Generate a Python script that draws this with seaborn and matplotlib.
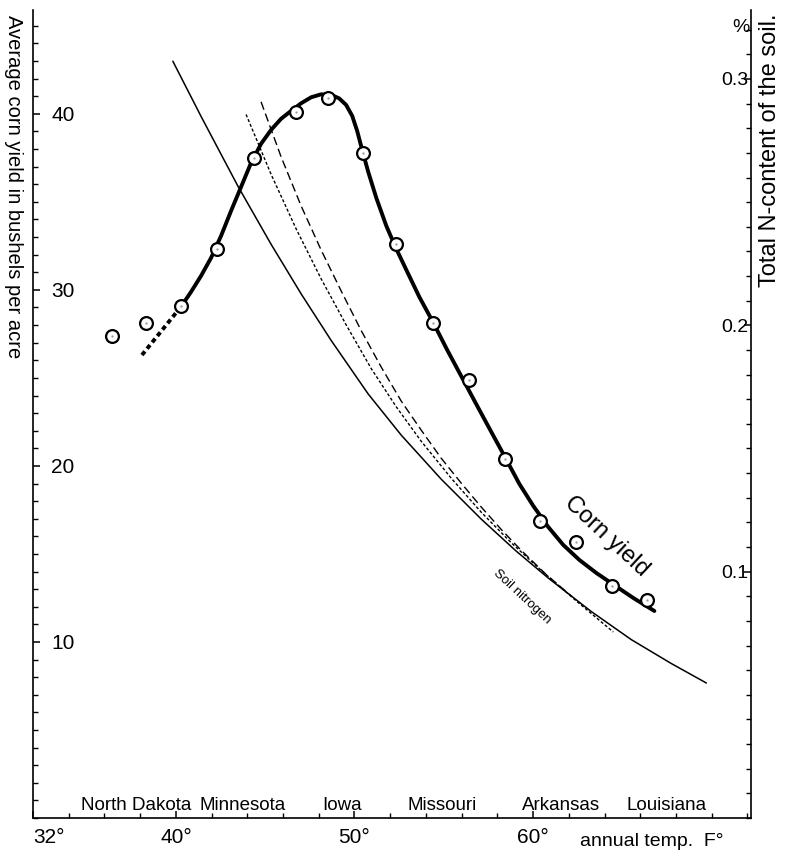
import numpy as np
import pandas as pd
import matplotlib
matplotlib.use("Agg")
import matplotlib.pyplot as plt
import seaborn as sns
from matplotlib.ticker import MultipleLocator

# observed corn yields (bushels per acre) against mean annual temperature (deg F)
temp_points = [36.4, 38.3, 40.3, 42.3, 44.4, 46.7, 48.5, 50.5, 52.3, 54.4, 56.4, 58.4, 60.4, 62.4, 64.4, 66.4]
yield_points = [27.4, 28.1, 29.1, 32.3, 37.5, 40.1, 40.9, 37.8, 32.6, 28.1, 24.9, 20.4, 16.9, 15.7, 13.2, 12.4]

# hand drawn corn yield curve
yield_curve_t = [40.29, 40.85, 41.41, 41.97, 42.53, 43.09, 43.65, 44.21, 44.77, 45.33, 45.89, 46.45,
                 47.01, 47.57, 48.13, 48.69, 49.14, 49.53, 49.87, 50.15, 50.43, 50.77, 51.22, 51.78,
                 52.34, 52.90, 53.63, 54.39, 55.19, 56.03, 56.87, 57.66, 58.39, 59.23, 60.01, 60.85,
                 61.69, 62.59, 63.54, 64.44, 65.61, 66.79]
yield_curve_y = [29.05, 29.89, 30.80, 31.82, 33.07, 34.49, 35.85, 37.22, 38.30, 39.09, 39.72, 40.17,
                 40.60, 40.94, 41.11, 41.08, 40.88, 40.51, 39.89, 39.03, 37.95, 36.70, 35.23, 33.64,
                 32.33, 31.14, 29.60, 28.18, 26.59, 25.00, 23.41, 21.93, 20.57, 18.98, 17.73, 16.53,
                 15.51, 14.66, 13.92, 13.30, 12.50, 11.76]
# dashed extension towards North Dakota
yield_ext_t = [38.1, 40.29]
yield_ext_y = [26.3, 29.05]

# soil nitrogen curves (% N), right hand axis
soil_t = [39.83, 41.41, 43.48, 45.33, 47.01, 48.69, 50.77, 52.62, 54.86, 57.10, 59.06, 60.85,
          63.26, 65.50, 67.74, 69.70]
soil_n = [0.3072, 0.2848, 0.2564, 0.2329, 0.2128, 0.1939, 0.1721, 0.1554, 0.1375, 0.1213, 0.1083,
          0.0974, 0.0838, 0.0724, 0.0627, 0.0548]
soil_dash_t = [44.77, 45.89, 47.01, 48.13, 49.25, 50.38, 51.50, 52.62, 53.74, 54.86, 55.98, 57.10,
               58.22, 59.34, 60.74, 62.14]
soil_dash_n = [0.2907, 0.2684, 0.2485, 0.2306, 0.2140, 0.1978, 0.1830, 0.1692, 0.1574, 0.1460, 0.1359,
               0.1262, 0.1171, 0.1086, 0.0988, 0.0901]
soil_dot_t = [43.93, 45.33, 46.73, 48.13, 49.54, 50.94, 52.34, 53.74, 55.42, 57.10, 58.78, 60.46,
              62.42, 64.49]
soil_dot_n = [0.2856, 0.2613, 0.2392, 0.2189, 0.2001, 0.1824, 0.1669, 0.1529, 0.1379, 0.1241, 0.1117,
              0.1005, 0.0881, 0.0755]

states = ["North Dakota", "Minnesota", "Iowa", "Missouri", "Arkansas", "Louisiana"]
state_t = [37.77, 43.71, 49.31, 54.91, 61.58, 67.46]

x_ticks = [32, 40, 50, 60]
x_labels = ["32°", "40°", "50°", "60°"]
y_ticks = [10, 20, 30, 40]
n_ticks = [0.1, 0.2, 0.3]
n_labels = ["0.1", "0.2", "0.3"]

sns.set_style("ticks")
plt.rcParams["font.family"] = ["Liberation Sans", "DejaVu Sans"]
plt.rcParams["text.color"] = "black"
plt.rcParams["xtick.color"] = "black"
plt.rcParams["ytick.color"] = "black"
plt.rcParams["axes.labelcolor"] = "black"

fig = plt.figure(figsize=(7.87, 8.58), dpi=100)
ax = fig.add_axes([33 / 787, 40 / 858, 718 / 787, 808 / 858])
ax2 = ax.twinx()

pts = pd.DataFrame({"t": temp_points, "y": yield_points})
curve = pd.DataFrame({"t": yield_curve_t, "y": yield_curve_y})
ext = pd.DataFrame({"t": yield_ext_t, "y": yield_ext_y})

sns.lineplot(data=curve, x="t", y="y", ax=ax, color="black", lw=2.8, sort=False, estimator=None)
sns.lineplot(data=ext, x="t", y="y", ax=ax, color="black", lw=2.8, sort=False, estimator=None,
             linestyle=(0, (1.2, 0.9)))
sns.scatterplot(data=pts, x="t", y="y", ax=ax, s=85, facecolor="white", edgecolor="black",
                linewidth=1.6, zorder=5)
ax.scatter(temp_points, yield_points, s=0.4, color="#999999", zorder=6)

soil = pd.DataFrame({"t": soil_t, "n": soil_n})
dash = pd.DataFrame({"t": soil_dash_t, "n": soil_dash_n})
dot = pd.DataFrame({"t": soil_dot_t, "n": soil_dot_n})
sns.lineplot(data=soil, x="t", y="n", ax=ax2, color="black", lw=1.1, sort=False, estimator=None)
sns.lineplot(data=dash, x="t", y="n", ax=ax2, color="black", lw=1.0, sort=False, estimator=None,
             linestyle=(0, (6, 3)))
sns.lineplot(data=dot, x="t", y="n", ax=ax2, color="black", lw=1.0, sort=False, estimator=None,
             linestyle=(0, (2.2, 1.5)))

ax.set_xlim(32, 72.2)
ax.set_ylim(0, 45.9)
ax2.set_ylim(0, 0.328)

for a in (ax, ax2):
    a.set_xlabel("")
    a.set_ylabel("")
    a.spines["top"].set_visible(False)
    for s in a.spines.values():
        s.set_linewidth(1.2)
        s.set_color("black")
ax.spines["right"].set_visible(False)
ax2.spines["left"].set_visible(False)
ax2.spines["bottom"].set_visible(False)

ax.set_xticks(x_ticks, x_labels)
ax.xaxis.set_minor_locator(MultipleLocator(2))
ax.tick_params(axis="x", which="major", direction="in", length=5, width=1.1, labelsize=15, pad=7)
ax.tick_params(axis="x", which="minor", direction="in", length=3.5, width=1.0)
ax.get_xticklabels()[0].set_ha("left")

ax.set_yticks(y_ticks, [str(v) for v in y_ticks])
ax.yaxis.set_minor_locator(MultipleLocator(1))
ax.tick_params(axis="y", which="major", direction="in", length=5, width=1.1, labelsize=15, pad=-13)
ax.tick_params(axis="y", which="minor", direction="in", length=3.5, width=1.0)
for t in ax.get_yticklabels():
    t.set_ha("left")

ax2.set_yticks(n_ticks, n_labels)
ax2.yaxis.set_minor_locator(MultipleLocator(0.01))
ax2.tick_params(axis="y", which="major", direction="in", length=5, width=1.1, labelsize=14, pad=-2)
ax2.tick_params(axis="y", which="minor", direction="in", length=3.5, width=1.0)
for t in ax2.get_yticklabels():
    t.set_ha("right")

for name, t in zip(states, state_t):
    ax.text(t, 0.45, name, ha="center", va="baseline", fontsize=13.5)

ax.text(62.6, -0.0285, "annual temp.  F°", transform=ax.get_xaxis_transform(),
        ha="left", va="center", fontsize=14)

ax.text(64.1, 16.0, "Corn yield", rotation=-43, ha="center", va="center", fontsize=17,
        rotation_mode="anchor")
ax2.text(59.4, 0.0897, "Soil nitrogen", rotation=-43, ha="center", va="center", fontsize=9.5,
         rotation_mode="anchor")

fig.text(13 / 787, 1 - 187 / 858, "Average corn yield in bushels per acre", rotation=-90,
         ha="center", va="center", fontsize=14.5)
fig.text(770 / 787, 1 - 150 / 858, "Total N-content of the soil.", rotation=90,
         ha="center", va="center", fontsize=17)
fig.text(741 / 787, 1 - 28 / 858, "%", ha="center", va="center", fontsize=14)

fig.savefig("out.png", dpi=100)
